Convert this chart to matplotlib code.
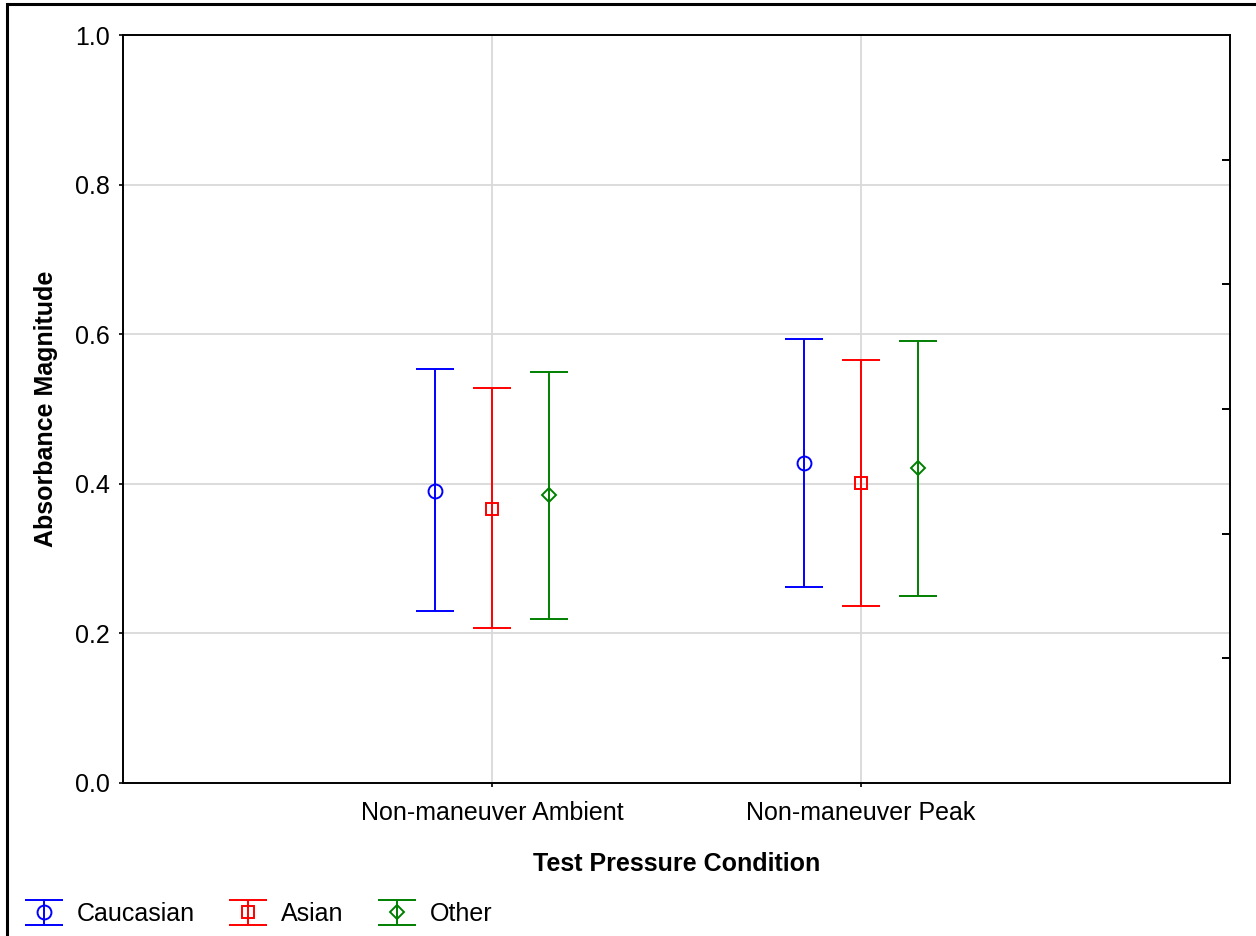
import matplotlib
matplotlib.use('Agg')
import numpy as np
import matplotlib.pyplot as plt
from matplotlib.patches import Rectangle

plt.rcParams['font.family'] = ['Liberation Sans', 'DejaVu Sans']

# data (mean, lower and upper limits)
conditions = ['Non-maneuver Ambient', 'Non-maneuver Peak']
groups = ['Caucasian', 'Asian', 'Other']
means = {
    'Caucasian': [0.390, 0.428],
    'Asian': [0.366, 0.401],
    'Other': [0.385, 0.421],
}
lower = {
    'Caucasian': [0.230, 0.262],
    'Asian': [0.207, 0.237],
    'Other': [0.219, 0.250],
}
upper = {
    'Caucasian': [0.553, 0.594],
    'Asian': [0.528, 0.565],
    'Other': [0.549, 0.591],
}
colors = {'Caucasian': '#0000ff', 'Asian': '#ff0000', 'Other': '#008000'}
markers = {'Caucasian': 'o', 'Asian': 's', 'Other': 'D'}
msizes = {'Caucasian': 10, 'Asian': 8.5, 'Other': 7}
offsets = {'Caucasian': -0.155, 'Asian': 0.0, 'Other': 0.155}

fig = plt.figure(figsize=(12.56, 9.36), dpi=100)
ax = fig.add_axes([0.0979, 0.1635, 0.8814, 0.7991])

x = np.arange(1, len(conditions) + 1)
for g in groups:
    m = np.array(means[g])
    err = np.vstack([m - np.array(lower[g]), np.array(upper[g]) - m])
    ax.errorbar(x + offsets[g], m, yerr=err, fmt=markers[g], color=colors[g],
                mfc='none', mec=colors[g], ms=msizes[g], mew=1.4,
                elinewidth=1.4, capsize=13.5, capthick=1.4, label=g, zorder=3)

ax.set_xlim(0, 3)
ax.set_ylim(0, 1)
ax.set_xticks(x)
ax.set_xticklabels(conditions, fontsize=18)
ax.set_yticks([0, 0.2, 0.4, 0.6, 0.8, 1.0])
ax.set_yticklabels(['0.0', '0.2', '0.4', '0.6', '0.8', '1.0'], fontsize=18)
ax.tick_params(axis='x', direction='out', length=3, width=1.2, pad=10)
ax.tick_params(axis='y', direction='out', length=3, width=1.2, pad=6.5)
ax.grid(True, color='#d9d9d9', linewidth=1.3, zorder=0)
ax.set_axisbelow(True)
for s in ax.spines.values():
    s.set_linewidth(1.4)

# inner ticks on the right side
ax2 = ax.twinx()
ax2.set_ylim(0, 1)
ax2.set_yticks([1/6, 2/6, 3/6, 4/6, 5/6])
ax2.set_yticklabels([])
ax2.tick_params(axis='y', direction='in', length=6, width=1.4)
for s in ax2.spines.values():
    s.set_visible(False)

ax.set_xlabel('Test Pressure Condition', fontsize=18, fontweight='bold')
ax.set_ylabel('Absorbance Magnitude', fontsize=18, fontweight='bold')
ax.xaxis.set_label_coords(0.5, -0.092)
ax.yaxis.set_label_coords(-0.0587, 0.5)

handles, labels = ax.get_legend_handles_labels()
fig.legend(handles, labels, loc='center left', bbox_to_anchor=(-0.0008, 0.0235),
           ncol=3, frameon=False, fontsize=18, handlelength=1.77,
           columnspacing=1.24, handletextpad=0.44)

fig.patches.append(Rectangle((7 / 1256, -0.01), 1.1, 1 - 4 / 936 + 0.01,
                             transform=fig.transFigure, fill=False,
                             edgecolor='black', linewidth=2.2))

fig.savefig('out.png', dpi=100)
